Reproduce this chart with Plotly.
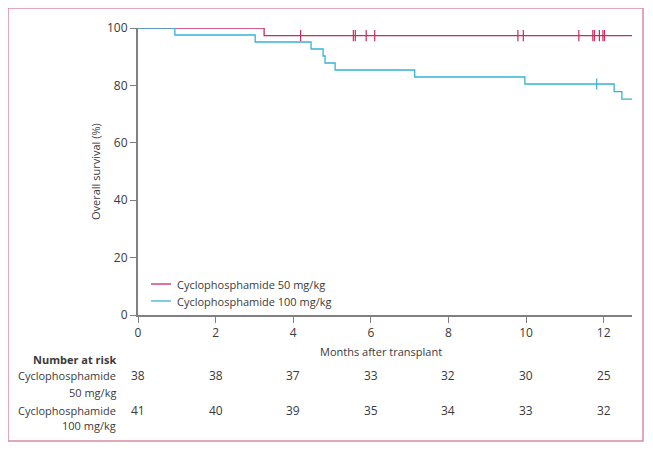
import plotly.graph_objects as go

# ---- data ----
red_name = "Cyclophosphamide 50 mg/kg"
blue_name = "Cyclophosphamide 100 mg/kg"

red_times = [0, 3.25, 12.73]
red_surv = [100, 97.37, 97.37]
red_censor_times = [4.19, 5.55, 5.60, 5.88, 6.10, 9.79, 9.93, 11.36, 11.72, 11.76, 11.89, 11.98, 12.02]
red_censor_surv = [97.37] * len(red_censor_times)

blue_times = [0, 0.95, 3.02, 4.46, 4.77, 4.82, 5.08, 7.13, 9.97, 12.27, 12.47, 12.73]
blue_surv = [100, 97.56, 95.12, 92.68, 90.24, 87.80, 85.37, 82.93, 80.49, 77.8, 75.2, 75.2]
blue_censor_times = [11.82]
blue_censor_surv = [80.49]

risk_months = [0, 2, 4, 6, 8, 10, 12]
risk_red = [38, 38, 37, 33, 32, 30, 25]
risk_blue = [41, 40, 39, 35, 34, 33, 32]

x_ticks = [0, 2, 4, 6, 8, 10, 12]
y_ticks = [0, 20, 40, 60, 80, 100]

RED = "#cc2a5c"
BLUE = "#35b4d6"
GRAY = "#808080"
TXT = "#3a3a3a"
FONT = "Open Sans"

OFF = 8  # page body margin of the html page
W, H = 653 - OFF, 451 - OFF
L, R, T, B = 138 - OFF, 632 - OFF, 28 - OFF, 315 - OFF


def px(x):
    return (x - OFF - L) / (R - L)


def py(y):
    return (B - (y - OFF)) / (B - T)


fig = go.Figure()
fig.add_trace(go.Scatter(x=red_times, y=red_surv, mode="lines", line=dict(color=RED, width=1.3, shape="hv"),
                         name=red_name, showlegend=False))
fig.add_trace(go.Scatter(x=red_censor_times, y=red_censor_surv, mode="markers",
                         marker=dict(symbol="line-ns", size=8, line=dict(color=RED, width=1.2)),
                         showlegend=False))
fig.add_trace(go.Scatter(x=blue_times, y=blue_surv, mode="lines", line=dict(color=BLUE, width=1.3, shape="hv"),
                         name=blue_name, showlegend=False))
fig.add_trace(go.Scatter(x=blue_censor_times, y=blue_censor_surv, mode="markers",
                         marker=dict(symbol="line-ns", size=8, line=dict(color=BLUE, width=1.2)),
                         showlegend=False))

shapes = []
annotations = []

# outer border
shapes.append(dict(type="rect", xref="paper", yref="paper", x0=px(8), x1=px(643), y0=py(441), y1=py(8),
                   line=dict(color="#d98aa3", width=1.5), layer="below"))

# legend samples
for i, (name, col) in enumerate([(red_name, RED), (blue_name, BLUE)]):
    yy = 284 + i * 17
    shapes.append(dict(type="line", xref="paper", yref="paper", x0=px(151), x1=px(171), y0=py(yy), y1=py(yy),
                       line=dict(color=col, width=1.3)))
    annotations.append(dict(xref="paper", yref="paper", x=px(175), y=py(yy), text=name, showarrow=False,
                            xanchor="left", yanchor="middle", font=dict(family=FONT, size=11, color=TXT)))

# y title
annotations.append(dict(xref="paper", yref="paper", x=px(95), y=py(172), text="Overall survival (%)",
                        textangle=-90, showarrow=False, xanchor="center", yanchor="middle",
                        font=dict(family=FONT, size=11, color=TXT)))
# x title
annotations.append(dict(xref="paper", yref="paper", x=px(381), y=py(351), text="Months after transplant",
                        showarrow=False, xanchor="center", yanchor="middle",
                        font=dict(family=FONT, size=11, color=TXT)))

# number at risk table
annotations.append(dict(xref="paper", yref="paper", x=px(118), y=py(359), text="<b>Number at risk</b>",
                        showarrow=False, xanchor="right", yanchor="middle",
                        font=dict(family=FONT, size=11, color=TXT)))
for label_y, sub_y, sub, vals in [(375, 392, "50 mg/kg", risk_red), (410, 425, "100 mg/kg", risk_blue)]:
    annotations.append(dict(xref="paper", yref="paper", x=px(118), y=py(label_y), text="Cyclophosphamide",
                            showarrow=False, xanchor="right", yanchor="middle",
                            font=dict(family=FONT, size=11, color=TXT)))
    annotations.append(dict(xref="paper", yref="paper", x=px(118), y=py(sub_y), text=sub,
                            showarrow=False, xanchor="right", yanchor="middle",
                            font=dict(family=FONT, size=11, color=TXT)))
    for m, v in zip(risk_months, vals):
        annotations.append(dict(xref="x", yref="paper", x=m, y=py(label_y), text=str(v),
                                showarrow=False, xanchor="center", yanchor="middle",
                                font=dict(family=FONT, size=12, color=TXT)))

fig.update_layout(
    width=W, height=H,
    margin=dict(l=L, r=W - R, t=T, b=H - B),
    paper_bgcolor="white", plot_bgcolor="white",
    shapes=shapes, annotations=annotations,
    font=dict(family=FONT, size=11, color=TXT),
    showlegend=False,
)
fig.update_xaxes(range=[0, 12.73], tickvals=x_ticks, ticks="outside", ticklen=6, tickcolor=GRAY, tickwidth=1,
                 showline=True, linecolor=GRAY, linewidth=1.5, showgrid=False, zeroline=False,
                 tickfont=dict(family=FONT, size=12, color=TXT))
fig.update_yaxes(range=[0, 100], tickvals=y_ticks, ticks="outside", ticklen=6, tickcolor=GRAY, tickwidth=1,
                 showline=True, linecolor=GRAY, linewidth=2, showgrid=False, zeroline=False,
                 tickfont=dict(family=FONT, size=12, color=TXT))

fig.write_html("out.html")
